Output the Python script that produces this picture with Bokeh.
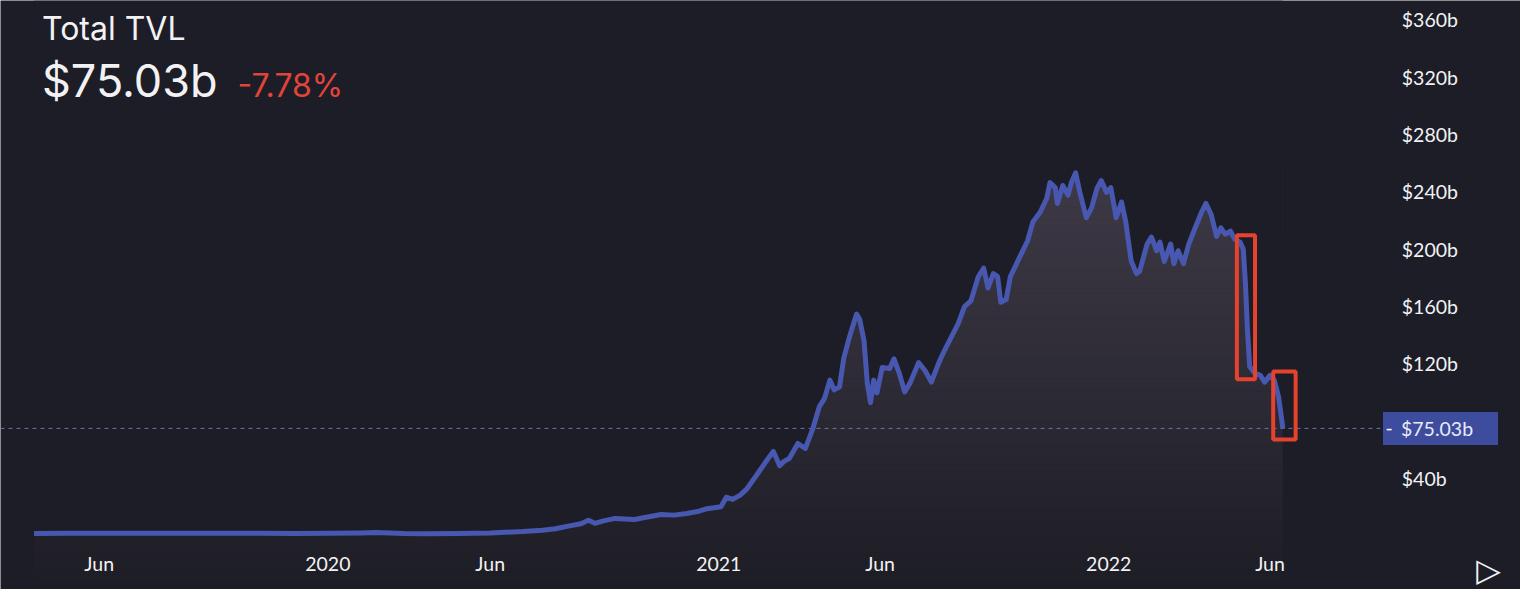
import numpy as np
import pandas as pd
from bokeh.plotting import figure
from bokeh.models import (Range1d, FixedTicker, Label, ColumnDataSource,
                          CustomJSTickFormatter)
from bokeh.embed import file_html
from bokeh.resources import INLINE

# ---------------- data ----------------
dates = [
    "2019-04-01", "2019-05-01", "2019-06-01", "2019-07-01", "2019-08-01", "2019-09-01",
    "2019-10-01", "2019-11-01", "2019-12-01", "2020-01-01", "2020-02-01", "2020-02-15",
    "2020-03-12", "2020-04-01", "2020-05-01", "2020-06-01", "2020-06-15", "2020-07-01",
    "2020-07-20", "2020-08-01", "2020-08-13", "2020-08-25", "2020-09-01", "2020-09-07",
    "2020-09-15", "2020-09-26", "2020-10-05", "2020-10-14", "2020-10-25", "2020-11-08",
    "2020-11-20", "2020-12-02", "2020-12-12", "2020-12-21", "2021-01-03", "2021-01-08",
    "2021-01-14", "2021-01-21", "2021-01-27", "2021-02-05", "2021-02-12", "2021-02-21",
    "2021-02-27", "2021-03-03", "2021-03-08", "2021-03-16", "2021-03-23", "2021-03-30",
    "2021-04-05", "2021-04-10", "2021-04-15", "2021-04-19", "2021-04-24", "2021-04-28",
    "2021-05-04", "2021-05-10", "2021-05-13", "2021-05-17", "2021-05-20", "2021-05-23",
    "2021-05-26", "2021-05-29", "2021-06-03", "2021-06-10", "2021-06-14", "2021-06-19",
    "2021-06-24", "2021-06-29", "2021-07-07", "2021-07-13", "2021-07-19", "2021-07-26",
    "2021-07-31", "2021-08-07", "2021-08-13", "2021-08-19", "2021-08-25", "2021-09-01",
    "2021-09-06", "2021-09-10", "2021-09-15", "2021-09-19", "2021-09-22", "2021-09-27",
    "2021-10-01", "2021-10-10", "2021-10-17", "2021-10-22", "2021-10-29", "2021-11-04",
    "2021-11-07", "2021-11-12", "2021-11-14", "2021-11-19", "2021-11-24", "2021-11-27",
    "2021-12-01", "2021-12-05", "2021-12-11", "2021-12-16", "2021-12-21", "2021-12-25",
    "2021-12-30", "2022-01-03", "2022-01-08", "2022-01-13", "2022-01-17", "2022-01-22",
    "2022-01-27", "2022-01-30", "2022-02-06", "2022-02-10", "2022-02-15", "2022-02-18",
    "2022-02-22", "2022-02-28", "2022-03-03", "2022-03-07", "2022-03-12", "2022-03-17",
    "2022-03-23", "2022-03-29", "2022-04-02", "2022-04-07", "2022-04-12", "2022-04-16",
    "2022-04-20", "2022-04-25", "2022-04-29", "2022-05-04", "2022-05-07", "2022-05-09",
    "2022-05-11", "2022-05-13", "2022-05-18", "2022-05-23", "2022-05-27", "2022-06-01",
    "2022-06-05", "2022-06-09", "2022-06-12", "2022-06-13",
]
tvl = [
    1.7, 1.8, 1.8, 1.9, 1.8, 1.9,
    1.8, 1.8, 1.7, 1.8, 2.0, 2.3,
    1.6, 1.5, 1.7, 2.0, 2.5, 3.0,
    4.0, 5.0, 6.8, 8.5, 10.9, 8.8,
    10.5, 12.2, 11.8, 11.5, 13.0, 14.9,
    14.5, 15.6, 17.0, 19.0, 20.4, 27.0,
    25.5, 28.5, 32.6, 42.0, 49.6, 59.0,
    49.0, 52.0, 54.0, 64.5, 61.0, 74.7,
    90.0, 96.0, 108.7, 101.9, 104.0, 124.0,
    140.6, 154.8, 150.8, 135.8, 106.6, 93.0,
    108.7, 99.8, 117.5, 116.8, 123.6, 113.4,
    100.5, 106.6, 120.9, 115.4, 107.3, 120.9,
    129.0, 139.2, 148.0, 160.0, 164.0, 181.0,
    186.8, 173.0, 183.0, 181.0, 163.0, 165.0,
    181.0, 195.0, 205.8, 219.0, 226.0, 235.6,
    246.5, 243.0, 232.0, 244.5, 237.7, 246.5,
    253.3, 239.7, 222.0, 228.9, 242.4, 247.9,
    239.7, 243.0, 222.0, 233.0, 219.0, 192.0,
    183.0, 184.7, 203.7, 208.5, 199.0, 205.0,
    191.5, 203.7, 190.0, 199.0, 190.0, 203.7,
    215.0, 226.0, 232.0, 224.0, 209.0, 215.0,
    210.5, 212.6, 207.0, 205.0, 200.0, 176.0,
    142.6, 118.0, 113.4, 112.0, 107.3, 112.0,
    108.7, 97.0, 81.0, 75.03,
]
current_value = 75.03
change_pct = -7.78

y_ticks = [40, 120, 160, 200, 240, 280, 320, 360]
x_tick_dates = ["2019-06-01", "2020-01-01", "2020-06-01", "2021-01-01",
                "2021-06-01", "2022-01-01", "2022-06-01"]
x_tick_labels = ["Jun", "2020", "Jun", "2021", "Jun", "2022", "Jun"]

# highlighted drops (start date, end date, low, high)
hl_start = ["2022-05-01", "2022-06-04"]
hl_end = ["2022-05-18", "2022-06-25"]
hl_low = [109.3, 67.2]
hl_high = [209.8, 114.8]

# ---------------- style / layout ----------------
BG = "#1c1d26"
LINE = "#4858b0"
RED = "#e5432e"
LABEL_BOX = "#3e4c9e"
TXT = "#f2f2f4"

W, H = 1520, 589
x_start = pd.Timestamp("2019-02-28 14:00")
x_end = pd.Timestamp("2023-01-21 12:00")
scale_edge = pd.Timestamp("2022-09-15 12:00")   # where the price scale begins
y0, y1 = -37.4, 373.6
x_axis_level = -5.3

x = pd.to_datetime(dates)
src = ColumnDataSource(dict(x=x, y=tvl))

p = figure(width=W, height=H, x_axis_type="datetime",
           output_backend="svg", toolbar_location=None,
           x_range=Range1d(x_start, x_end), y_range=Range1d(y0, y1),
           y_axis_location="right",
           background_fill_color=BG, border_fill_color=BG,
           min_border_left=0, min_border_top=0, min_border_right=0,
           min_border_bottom=0)
p.outline_line_color = None
p.grid.visible = False

# gradient fill under the curve: horizontal colour bands, masked above the line
step = 3.0
lows = np.arange(y0, max(tvl) + step, step)
highs = lows + step + 0.4
c_lo = np.array([29, 29, 37])
c_hi = np.array([62, 57, 70])
mid = np.clip((lows + step / 2 - y0) / (255 - y0), 0, 1.2)
cols = ["#%02x%02x%02x" % tuple(np.clip((c_lo + (c_hi - c_lo) * t).round().astype(int), 0, 255))
        for t in mid]
p.quad(left=[x[0]] * len(lows), right=[x[-1]] * len(lows), bottom=lows, top=highs,
       fill_color=cols, line_color=None)
p.varea(x=x, y1=tvl, y2=[y1] * len(tvl), fill_color=BG)

# dashed current value line up to the price scale
p.segment(x0=[x_start], x1=[scale_edge], y0=[current_value], y1=[current_value],
          line_color="#6f74a8", line_dash="4 4", line_width=1)

p.line("x", "y", source=src, line_color=LINE, line_width=5, line_join="round")

# red highlight rectangles
p.quad(left=pd.to_datetime(hl_start), right=pd.to_datetime(hl_end),
       bottom=hl_low, top=hl_high, fill_alpha=0, line_color=RED, line_width=4)

# axes (drawn inside the full-size frame at fixed positions)
yax = p.yaxis[0]
yax.fixed_location = scale_edge.value / 1e6
yax.ticker = FixedTicker(ticks=y_ticks)
yax.formatter = CustomJSTickFormatter(code="return '$' + tick + 'b';")
yax.axis_line_color = None
yax.major_tick_line_color = None
yax.minor_tick_line_color = None
yax.major_tick_out = 0
yax.major_tick_in = 0
yax.major_label_standoff = 18
yax.major_label_text_font = "Lato"
yax.major_label_text_font_size = "19.5px"
yax.major_label_text_color = TXT

xax = p.xaxis[0]
xax.fixed_location = x_axis_level
tick_ms = [pd.Timestamp(d).value / 1e6 for d in x_tick_dates]
xax.ticker = FixedTicker(ticks=tick_ms)
xax.major_label_overrides = {t: l for t, l in zip(tick_ms, x_tick_labels)}
xax.axis_line_color = None
xax.major_tick_line_color = None
xax.minor_tick_line_color = None
xax.major_tick_out = 0
xax.major_tick_in = 0
xax.major_label_standoff = 9
xax.major_label_text_font = "Lato"
xax.major_label_text_font_size = "19.5px"
xax.major_label_text_color = TXT

# titles
p.add_layout(Label(x=41.5, y=561.5, x_units="screen", y_units="screen", text="Total TVL",
                   text_font="Inter", text_font_size="32px", text_color=TXT,
                   text_baseline="alphabetic"))
p.add_layout(Label(x=41.5, y=509.5, x_units="screen", y_units="screen",
                   text="$%.2fb" % current_value,
                   text_font="Inter", text_font_size="45px", text_color=TXT,
                   text_baseline="alphabetic"))
p.add_layout(Label(x=237, y=504.5, x_units="screen", y_units="screen",
                   text="%.2f%%" % change_pct,
                   text_font="Inter", text_font_size="32px", text_color="#e0443a",
                   text_baseline="alphabetic"))

# current value tag on the price scale
p.add_layout(Label(x=1382.5, y=current_value, x_units="screen", y_units="data",
                   text="$%.2fb" % current_value, text_font="Lato",
                   text_font_size="19.5px", text_color="#e8eaf6", text_baseline="middle",
                   background_fill_color=LABEL_BOX,
                   padding=dict(left=18, right=25, top=5, bottom=5)))
p.add_layout(Label(x=1385, y=current_value, x_units="screen", y_units="data",
                   text="-", text_font="Lato", text_font_size="19.5px",
                   text_color="#ffffff", text_baseline="middle"))

# play icon
p.add_layout(Label(x=1488, y=19.5, x_units="screen", y_units="screen", text="▷",
                   text_font="DejaVu Sans", text_font_size="32px", text_color=TXT,
                   text_align="center", text_baseline="middle"))

open("out.html", "w").write(file_html(p, INLINE))
